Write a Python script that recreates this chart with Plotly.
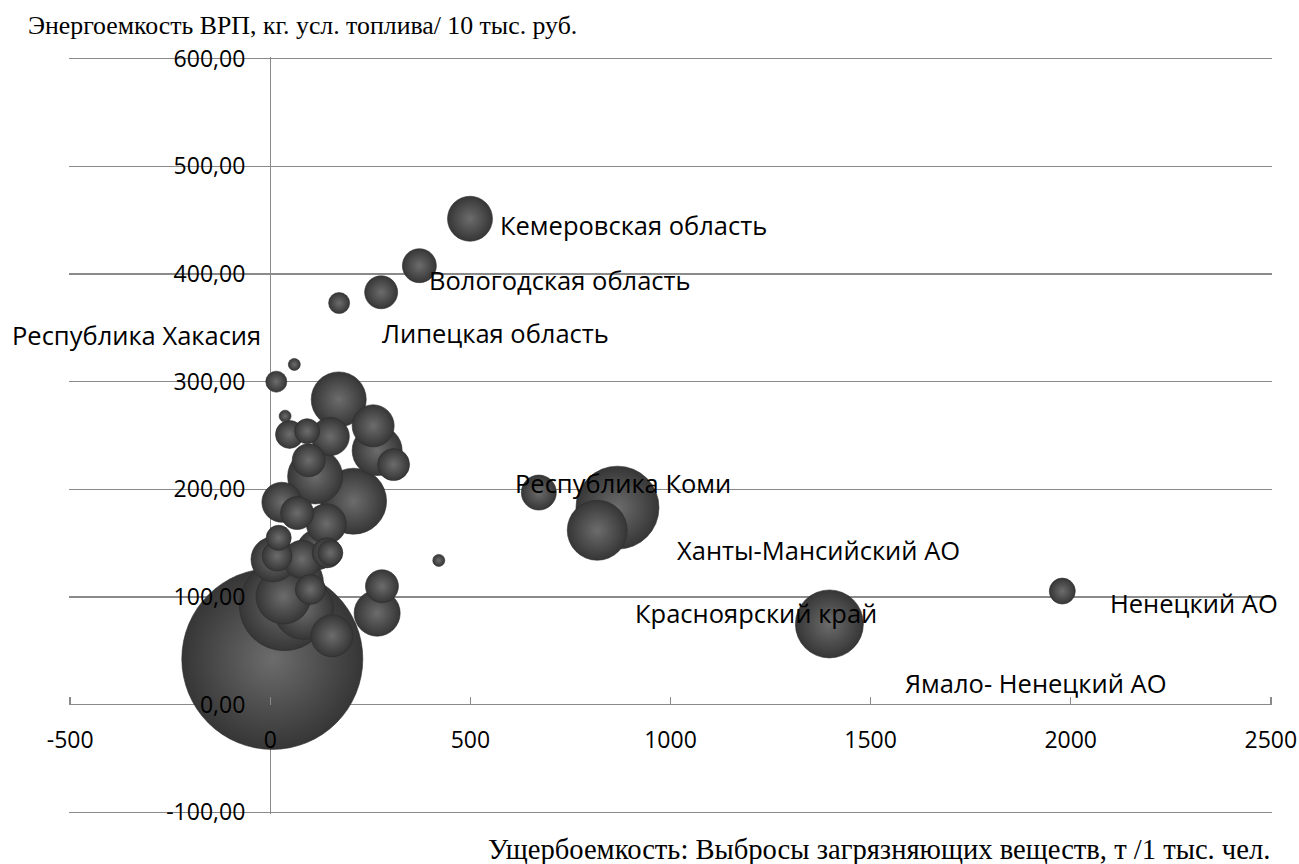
import plotly.graph_objects as go

# --- data ---
# x: Ущербоемкость (выбросы, т / 1 тыс. чел.), y: Энергоемкость ВРП, size: bubble size value
x_vals = [5, 499, 372.5, 277, 172, 15, 60, 171, 257, 267, 308, 150, 37, 48, 92, 96, 112,
          208, 29, 67, 21, 79, 154, 279, 267, 421, 671, 867.5, 817, 1397, 1979, 35, 8,
          58, 33, 83, 117, 150, 142, 17, 100, 140]
y_vals = [42.5, 451.3, 407.7, 383, 373, 300, 316, 283.5, 259, 236, 223, 249, 268, 251, 254,
          227, 212, 189, 188, 178, 155, 135, 64, 110, 85, 134, 197, 183, 162, 75, 105.5,
          92, 135, 113, 100.5, 88.5, 144, 141, 141, 138, 107, 168]
sizes = [8000, 494, 282, 266, 108, 108, 35, 739, 431, 611, 250, 353, 35, 191, 153, 266, 739,
         1064, 391, 266, 153, 353, 431, 266, 517, 35, 299, 1682, 879, 1129, 165, 1978, 494,
         879, 739, 879, 391, 153, 220, 220, 220, 391]
names = ["", "Кемеровская область", "Вологодская область", "Липецкая область", "",
         "Республика Хакасия", "", "", "", "", "", "", "", "", "", "", "", "", "", "", "",
         "", "", "", "", "", "Республика Коми", "Ханты-Мансийский АО", "Ямало- Ненецкий АО",
         "Красноярский край", "Ненецкий АО", "", "", "", "", "", "", "", "", "", "", ""]

x_ticks = [-500, 0, 500, 1000, 1500, 2000, 2500]
x_tick_text = ["-500", "0", "500", "1000", "1500", "2000", "2500"]
y_ticks = [-100, 0, 100, 200, 300, 400, 500, 600]
y_tick_text = ["-100,00", "0,00", "100,00", "200,00", "300,00", "400,00", "500,00", "600,00"]

x_title = "Ущербоемкость: Выбросы загрязняющих веществ, т /1 тыс. чел."
y_title = "Энергоемкость ВРП, кг. усл. топлива/ 10 тыс. руб."

# label offsets in pixels relative to their bubble (layout only)
label_shift = {
    "Кемеровская область": (163, -6),
    "Вологодская область": (141, -14),
    "Липецкая область": (114, -41),
    "Республика Хакасия": (-140, 47),
    "Республика Коми": (84, 10),
    "Ханты-Мансийский АО": (201, -42),
    "Ямало- Ненецкий АО": (438, -153),
    "Красноярский край": (-73, 11),
    "Ненецкий АО": (132, -12),
}

# draw big bubbles first so small ones sit on top
order = sorted(range(len(sizes)), key=lambda i: -sizes[i])
xs = [x_vals[i] for i in order]
ys = [y_vals[i] for i in order]
ss = [sizes[i] for i in order]

max_d = 181
sizeref = 2.0 * max(sizes) / (max_d ** 2)

GRID = "#8a8a8a"
LABEL_FONT = "Open Sans"

X_RANGE = [-503, 2503]
Y_RANGE = [-101.5, 601.5]

fig = go.Figure()
fig.add_trace(go.Scatter(
    x=xs, y=ys, mode="markers",
    marker=dict(
        size=ss, sizemode="area", sizeref=sizeref, sizemin=2,
        color="#363636",                                   # rim
        gradient=dict(type="radial", color="#6c6c6c"),     # centre
        line=dict(color="#2e2e2e", width=0.6),
        opacity=1,
    ),
    hoverinfo="skip",
    showlegend=False,
))

annotations = []
for i, nm in enumerate(names):
    if nm:
        dx, dy = label_shift[nm]
        annotations.append(dict(
            x=x_vals[i], y=y_vals[i], xref="x", yref="y",
            text=nm, showarrow=False, xshift=dx, yshift=dy,
            font=dict(family=LABEL_FONT, size=25.5, color="#000000"),
            xanchor="center", yanchor="middle",
        ))

annotations.append(dict(
    x=(302.5 - 69) / 1203, y=(814 - 25) / 757, xref="paper", yref="paper",
    text=y_title, showarrow=False, xanchor="center", yanchor="middle",
    font=dict(family="Liberation Serif", size=25.8, color="#000000"),
))
annotations.append(dict(
    x=(879 - 69) / 1203, y=(814 - 850) / 757, xref="paper", yref="paper",
    text=x_title, showarrow=False, xanchor="center", yanchor="middle",
    font=dict(family="Liberation Serif", size=28.6, color="#000000"),
))

fig.update_layout(
    width=1299, height=864,
    margin=dict(l=69, r=27, t=57, b=50, pad=0, autoexpand=False),
    paper_bgcolor="white", plot_bgcolor="white",
    showlegend=False,
    xaxis=dict(
        range=X_RANGE, anchor="free",
        position=(0 - Y_RANGE[0]) / (Y_RANGE[1] - Y_RANGE[0]), side="bottom",
        tickvals=x_ticks, ticktext=x_tick_text,
        ticks="inside", ticklen=8, tickwidth=1.5, tickcolor=GRID,
        showline=False, showgrid=False, automargin=False,
        zeroline=True, zerolinecolor=GRID, zerolinewidth=1.5,
        tickfont=dict(family=LABEL_FONT, size=23, color="#000000"),
        ticklabelstandoff=19,
        layer="above traces",
        fixedrange=True,
    ),
    yaxis=dict(
        range=Y_RANGE, anchor="free",
        position=(0 - X_RANGE[0]) / (X_RANGE[1] - X_RANGE[0]), side="left",
        tickvals=y_ticks, ticktext=y_tick_text,
        ticks="", showline=False, automargin=False,
        showgrid=True, gridcolor=GRID, gridwidth=1.5,
        zeroline=True, zerolinecolor=GRID, zerolinewidth=1.5,
        tickfont=dict(family=LABEL_FONT, size=23, color="#000000"),
        ticklabelstandoff=25,
        layer="above traces",
        fixedrange=True,
    ),
    annotations=annotations,
)

fig.write_html(
    "out.html",
    config={"displayModeBar": False, "staticPlot": True},
    post_script="document.body.style.margin='0';document.body.style.overflow='hidden';",
)
